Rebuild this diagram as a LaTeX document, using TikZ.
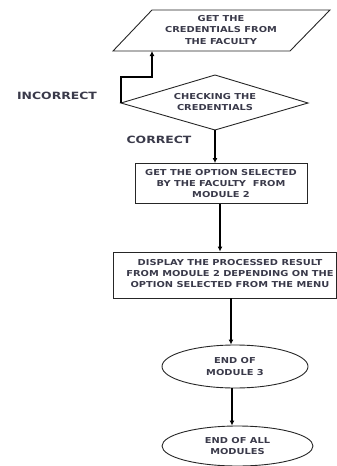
\documentclass[tikz,border=0pt]{standalone}
\usepackage{fontspec}
\setmainfont{DejaVu Sans}
\newfontfamily\boxfont[FakeStretch=1.2]{DejaVu Sans Bold}
\newfontfamily\lblfont[FakeStretch=1.24]{DejaVu Sans Bold}
\usetikzlibrary{arrows.meta,shapes.geometric}
\definecolor{txt}{HTML}{3A3A4A}
\begin{document}
\begin{tikzpicture}[x=1pt,y=-1pt,
  line width=1pt,
  boxtext/.style={font=\boxfont\fontsize{8.2}{11.4}\selectfont, text=txt, align=center, inner sep=0pt},
  lbl/.style={font=\lblfont\fontsize{10}{10}\selectfont, text=txt, inner sep=0pt},
  flow/.style={draw=black, line width=1.2pt, -{Latex[length=5pt,width=5pt]}},
  shapeline/.style={draw=black!85, line width=0.9pt}]
\useasboundingbox (0,0) rectangle (337,466);
% parallelogram
\coordinate (p1) at (152,10);
\coordinate (p2) at (330,10);
\coordinate (p3) at (290,51);
\coordinate (p4) at (113,51);
\draw[shapeline] (p1) -- (p2) -- (p3) -- (p4) -- cycle;
\node[boxtext] (par) at (221,30) {GET THE\\CREDENTIALS FROM\\THE FACULTY};
\coordinate (parin) at (152,51);
% diamond
\coordinate (dl) at (121,103);
\coordinate (dt) at (215,75);
\coordinate (dr) at (308,103);
\coordinate (db) at (215,130);
\draw[shapeline] (dl) -- (dt) -- (dr) -- (db) -- cycle;
\node[boxtext] (dia) at (215,102) {CHECKING THE\\CREDENTIALS};
% boxes
\node[draw=black!85, line width=0.9pt, minimum width=172pt, minimum height=40pt, inner sep=0pt] (b1) at (221,183.5) {};
\node[boxtext] (b1t) at (b1.center) {GET THE OPTION SELECTED\\BY THE FACULTY\ \ FROM\\MODULE 2};
\node[draw=black!85, line width=0.9pt, minimum width=223pt, minimum height=46pt, inner sep=0pt] (b2) at (224.5,275) {};
\node[boxtext] (b2t) at (230,273.5) {DISPLAY THE PROCESSED RESULT\\FROM MODULE 2 DEPENDING ON THE\\OPTION SELECTED FROM THE MENU};
% ellipses
\node[ellipse, draw=black!85, line width=0.9pt, minimum width=146pt, minimum height=43pt, inner sep=0pt] (e1) at (235,366.5) {};
\node[boxtext] (e1t) at (e1.center) {END OF\\MODULE 3};
\node[ellipse, draw=black!85, line width=0.9pt, minimum width=151pt, minimum height=40pt, inner sep=0pt] (e2) at (237.5,446) {};
\node[boxtext] (e2t) at (e2.center) {END OF ALL\\MODULES};
% labels
\node[lbl] (inc) at (57,96) {INCORRECT};
\node[lbl] (cor) at (159,140) {CORRECT};
% connectors
\draw[flow] (dl) -- ++(0,-26) -| (parin);
\draw[flow] (db) -- (b1.north -| db);
\draw[flow] (b1.south -| 220,0) -- (b2.north -| 220,0);
\draw[flow] (b2.south -| 231,0) -- (e1.north -| 231,0);
\draw[flow] (e1.south -| 232,0) -- (e2.north -| 232,0);
\end{tikzpicture}
\end{document}
